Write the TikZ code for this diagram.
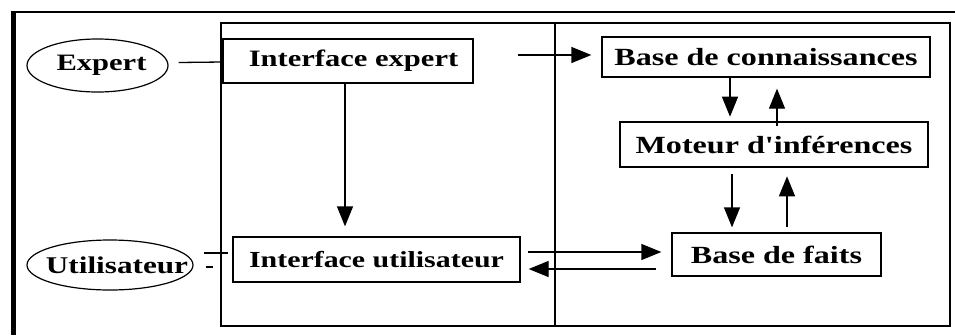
\documentclass[tikz,border=0pt]{standalone}
\usepackage{fontspec}
\setmainfont[FakeStretch=1.3, Ligatures=TeXOff]{Liberation Serif}
\usetikzlibrary{shapes.geometric,arrows.meta}

\tikzset{
  lbl/.style={font=\fontsize{#1}{26}\selectfont\bfseries, inner sep=0pt},
  lbl/.default=23,
  block/.style={lbl=#1, draw, line width=1.3pt, rectangle},
  block/.default=23,
  actor/.style={lbl=#1, draw, line width=1.2pt, ellipse, inner xsep=-40pt, inner ysep=-10pt},
  actor/.default=23,
  link/.style={line width=1.3pt},
  arr/.style={link, -{Triangle[length=20pt,width=16pt]}},
}

\begin{document}
\begin{tikzpicture}[x=1pt,y=-1pt]
  \useasboundingbox (0,0) rectangle (955,335);
  \fill[white] (0,0) rectangle (955,335);

  % outer page frame
  \draw[line width=5pt] (13,12) -- (13,335);
  \draw[line width=1.5pt] (11,12) -- (955,12);

  % system frame and divider
  \draw[line width=2.6pt] (221,23) rectangle (950,326);
  \draw[line width=1.2pt] (555,23) -- (555,326);

  % actors
  \node[actor=23.5, minimum width=141pt, minimum height=53pt] (expert) at (97.5,65.5) {\hspace*{8pt}Expert};
  \node[actor=24, minimum width=166pt, minimum height=50pt] (util) at (110,265) {\hspace*{14pt}Utilisateur};

  % components
  \node[block=23.5, minimum width=250pt, minimum height=44pt] (iexp) at (348,61) {\hspace*{11pt}Interface expert};
  \node[block=23, minimum width=287pt, minimum height=45pt] (iuti) at (376.5,259.5) {Interface utilisateur};
  \node[block=24.7, minimum width=328pt, minimum height=40pt] (bdc) at (766,57) {Base de connaissances};
  \node[block=24.7, line width=2.6pt, minimum width=308pt, minimum height=45pt] (mot) at (774,144.5) {Moteur d'inférences};
  \node[block=24.7, minimum width=209pt, minimum height=43pt] (bdf) at (776.5,254.5) {Base de faits};

  % actor links
  \draw[link] ([xshift=10pt,yshift=3pt]expert.east) -- ([yshift=-1pt]iexp.west);
  \draw[link] ([xshift=10pt,yshift=12pt]util.east) -- ([xshift=34pt,yshift=12pt]util.east);
  \draw[link] ([xshift=12pt,yshift=-2pt]util.east) -- ([xshift=19pt,yshift=-2pt]util.east);

  % expert interface links
  \draw[arr] ([xshift=-3pt]iexp.south) -- ([xshift=-31.5pt,yshift=10pt]iuti.north);
  \draw[arr] ([xshift=44pt,yshift=6pt]iexp.east) -- ([xshift=-10pt,yshift=2pt]bdc.west);

  % knowledge base <-> inference engine
  \draw[arr] ([xshift=-36pt]bdc.south) -- ([xshift=-44pt,yshift=4pt]mot.north);
  \draw[arr] ([xshift=3pt,yshift=-5pt]mot.north) -- ([xshift=11pt,yshift=-11pt]bdc.south);

  % inference engine <-> fact base
  \draw[arr] ([xshift=-42pt,yshift=-6pt]mot.south) -- ([xshift=-44.5pt,yshift=5pt]bdf.north);
  \draw[arr] ([xshift=10.5pt,yshift=5pt]bdf.north) -- ([xshift=13pt,yshift=-8pt]mot.south);

  % user interface <-> fact base
  \draw[arr] ([xshift=7pt,yshift=7.5pt]iuti.east) -- ([xshift=-10pt,yshift=2.5pt]bdf.west);
  \draw[arr] ([xshift=-15pt,yshift=-14.5pt]bdf.west) -- ([xshift=8pt,yshift=-9.5pt]iuti.east);
\end{tikzpicture}
\end{document}
